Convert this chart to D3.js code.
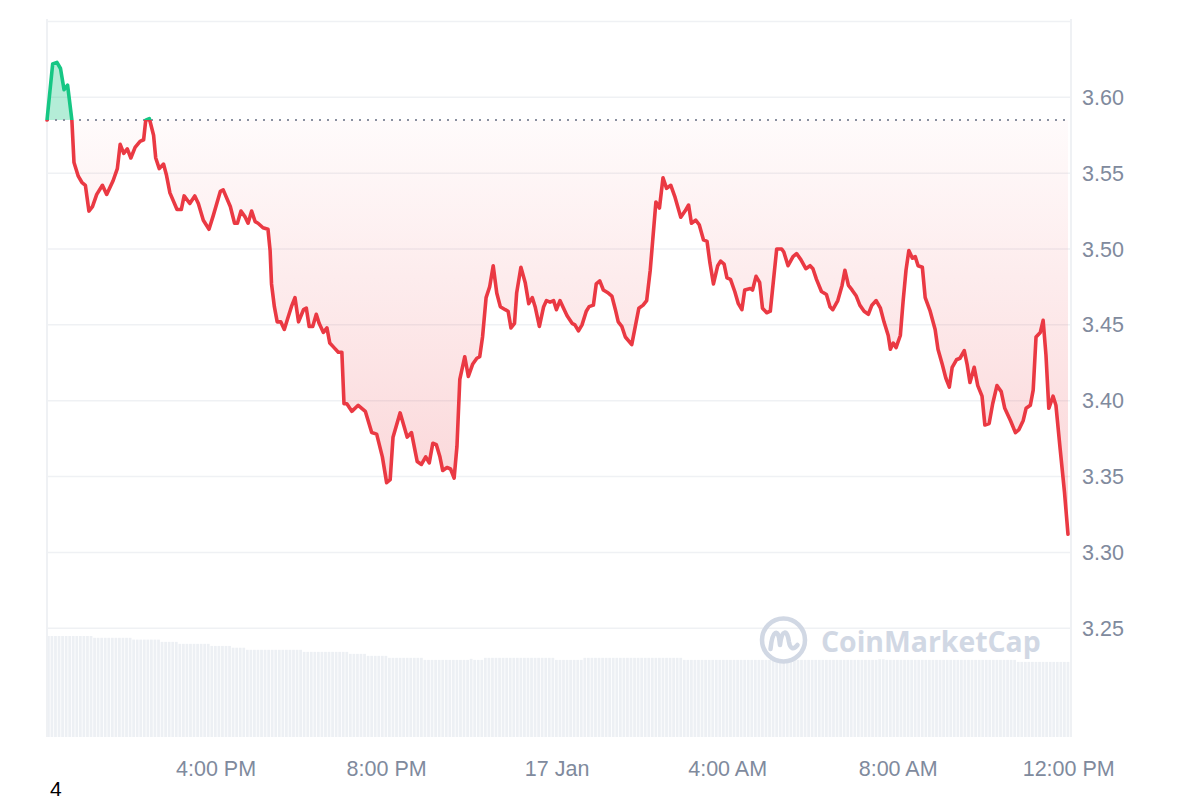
<!DOCTYPE html>
<html>
<head>
<meta charset="utf-8">
<script src="https://cdn.jsdelivr.net/npm/d3@7"></script>
<style>
  html, body { margin: 0; padding: 0; background: #ffffff; }
  svg { display: block; }
  text { font-family: "Liberation Sans", Arial, Helvetica, sans-serif; }
</style>
</head>
<body>
<svg id="chart" width="1200" height="800"></svg>
<script>
// ---------- DATA ----------
const startTime = new Date(2025, 0, 16, 12, 2);   // first sample
const baselinePrice = 3.585;                        // opening price (dotted line)

// minutes after startTime of each sampled price
const priceMinutes = [0,8,14,19,24,29,35,38,44,49,54,59,64,70,78,84,93,99,103,108,113,118,124,131,136,139,144,150,153,158,164,168,173,183,189,193,201,208,213,220,228,234,244,248,258,264,268,273,279,283,288,293,297,304,311,314,316,320,324,329,334,338,344,349,354,361,365,369,374,379,383,389,394,398,404,410,415,418,422,429,438,448,457,464,472,478,483,487,497,507,513,521,527,533,538,543,548,553,557,563,568,573,577,581,588,593,599,605,609,613,618,623,628,633,638,645,649,653,658,661,667,673,678,683,687,693,699,703,708,713,717,722,728,732,739,743,748,753,759,763,769,773,778,783,790,795,800,804,809,814,823,828,833,839,844,849,857,862,867,872,878,884,892,898,903,907,913,918,924,929,933,938,944,948,953,957,962,968,973,978,982,990,993,998,1003,1007,1013,1018,1027,1034,1037,1043,1050,1055,1061,1068,1074,1078,1083,1090,1097,1102,1106,1113,1119,1123,1128,1133,1139,1144,1150,1156,1161,1167,1173,1178,1184,1187,1191,1195,1201,1205,1209,1213,1218,1222,1226,1232,1236,1243,1250,1254,1260,1265,1270,1274,1280,1285,1291,1295,1299,1305,1310,1316,1320,1326,1331,1337,1343,1348,1356,1363,1368,1374,1378,1384,1388,1392,1398,1402,1406,1410,1416,1420,1426,1432,1437];

const prices = [3.585,3.622,3.623,3.619,3.605,3.608,3.585,3.557,3.548,3.544,3.542,3.525,3.528,3.536,3.542,3.536,3.545,3.553,3.569,3.563,3.566,3.560,3.567,3.571,3.572,3.585,3.586,3.575,3.560,3.553,3.556,3.549,3.537,3.526,3.526,3.535,3.530,3.535,3.530,3.519,3.513,3.522,3.538,3.539,3.528,3.517,3.517,3.525,3.521,3.517,3.525,3.518,3.517,3.514,3.513,3.499,3.477,3.462,3.452,3.452,3.447,3.453,3.462,3.468,3.452,3.460,3.461,3.449,3.449,3.457,3.451,3.445,3.448,3.438,3.435,3.432,3.432,3.398,3.398,3.393,3.397,3.393,3.379,3.378,3.363,3.346,3.348,3.376,3.392,3.376,3.379,3.360,3.358,3.363,3.359,3.372,3.371,3.363,3.354,3.356,3.355,3.349,3.370,3.414,3.429,3.416,3.424,3.428,3.429,3.442,3.468,3.475,3.489,3.471,3.462,3.460,3.459,3.448,3.451,3.471,3.488,3.478,3.464,3.468,3.462,3.449,3.462,3.466,3.465,3.466,3.460,3.466,3.460,3.456,3.451,3.450,3.446,3.450,3.459,3.462,3.463,3.477,3.479,3.473,3.471,3.469,3.460,3.452,3.449,3.442,3.437,3.449,3.461,3.463,3.466,3.486,3.531,3.527,3.547,3.540,3.542,3.534,3.521,3.525,3.529,3.517,3.519,3.516,3.506,3.505,3.491,3.477,3.489,3.492,3.490,3.481,3.480,3.472,3.464,3.460,3.473,3.474,3.473,3.482,3.478,3.461,3.458,3.459,3.500,3.500,3.498,3.489,3.495,3.497,3.493,3.487,3.489,3.487,3.480,3.472,3.470,3.462,3.460,3.466,3.476,3.486,3.476,3.473,3.469,3.463,3.459,3.457,3.463,3.466,3.461,3.452,3.443,3.434,3.438,3.435,3.443,3.466,3.486,3.499,3.494,3.495,3.489,3.488,3.468,3.459,3.447,3.434,3.424,3.415,3.409,3.422,3.427,3.428,3.433,3.424,3.412,3.422,3.410,3.403,3.384,3.385,3.398,3.410,3.406,3.395,3.387,3.379,3.381,3.387,3.395,3.397,3.407,3.442,3.445,3.453,3.430,3.395,3.403,3.397,3.368,3.340,3.312];

// 24h volume (billions), run-length encoded per 5-minute bar
const volumeRunCounts = [13,11,8,5,9,6,4,16,13,5,6,10,13,1,3,20,8,28,55,2,37,15];
const volumeRunValues = [11.2,11.0,10.8,10.55,10.33,10.1,9.9,9.67,9.44,9.22,9.0,8.78,8.55,8.67,8.55,8.78,8.55,8.78,8.55,8.62,8.55,8.33];
const volumeBarMinutes = 5;

const yTickValues = [3.25, 3.30, 3.35, 3.40, 3.45, 3.50, 3.55, 3.60];
const yGridValues = [3.25, 3.30, 3.35, 3.40, 3.45, 3.50, 3.55, 3.60, 3.65];
const xTickTimes = [new Date(2025,0,16,16,0), new Date(2025,0,16,20,0), new Date(2025,0,17,0,0),
                    new Date(2025,0,17,4,0), new Date(2025,0,17,8,0), new Date(2025,0,17,12,0)];
const xTickLabels = ["4:00 PM", "8:00 PM", "17 Jan", "4:00 AM", "8:00 AM", "12:00 PM"];

// ---------- LAYOUT ----------
const plotLeft = 47, plotRight = 1071, plotTop = 19, plotBottom = 737;
const volTop = 636;
const COLORS = { red: "#ea3943", green: "#16c784", grid: "#eff1f4", label: "#808a9d", vol: "#edf0f4", dot: "#8a90a0", wm: "#cfd6e3" };

const svg = d3.select("#chart");
const minute = 60000;
const data = priceMinutes.map((m, i) => ({ t: new Date(+startTime + m * minute), v: prices[i] }));
const endTime = new Date(+startTime + priceMinutes[priceMinutes.length - 1] * minute);

const x = d3.scaleTime().domain([startTime, endTime]).range([plotLeft, 1068]);
const y = d3.scaleLinear().domain([3.25, 3.60]).range([628.3, 97.3]);

// volume bars expanded from runs
const volume = [];
volumeRunCounts.forEach((c, i) => { for (let k = 0; k < c; k++) volume.push(volumeRunValues[i]); });
const vY = d3.scaleLinear().domain([0, d3.max(volume)]).range([plotBottom, volTop]);

const defs = svg.append("defs");
const yBase = y(baselinePrice);
defs.append("clipPath").attr("id", "clipAbove").append("rect")
  .attr("x", 0).attr("y", 0).attr("width", 1200).attr("height", yBase);
defs.append("clipPath").attr("id", "clipBelow").append("rect")
  .attr("x", 0).attr("y", yBase).attr("width", 1200).attr("height", 800 - yBase);
const grad = defs.append("linearGradient").attr("id", "redGrad")
  .attr("gradientUnits", "userSpaceOnUse").attr("x1", 0).attr("x2", 0)
  .attr("y1", yBase).attr("y2", y(d3.min(prices)));
grad.append("stop").attr("offset", 0).attr("stop-color", COLORS.red).attr("stop-opacity", 0.02);
grad.append("stop").attr("offset", 1).attr("stop-color", COLORS.red).attr("stop-opacity", 0.22);

// gridlines
svg.append("g").selectAll("line").data(yGridValues).join("line")
  .attr("x1", plotLeft).attr("x2", plotRight)
  .attr("y1", d => y(d)).attr("y2", d => y(d))
  .attr("stroke", COLORS.grid).attr("stroke-width", 1.5);

// volume bars
const barStep = x(new Date(+startTime + volumeBarMinutes * minute)) - x(startTime);
svg.append("g").selectAll("rect").data(volume).join("rect")
  .attr("x", (d, i) => x(new Date(+startTime + i * volumeBarMinutes * minute)))
  .attr("width", barStep - 0.8)
  .attr("y", d => vY(d))
  .attr("height", d => plotBottom - vY(d))
  .attr("fill", COLORS.vol);

// borders
svg.append("g").selectAll("line").data([plotLeft, plotRight]).join("line")
  .attr("x1", d => d).attr("x2", d => d).attr("y1", plotTop).attr("y2", plotBottom)
  .attr("stroke", COLORS.grid).attr("stroke-width", 2);

// watermark
const wm = svg.append("g").attr("opacity", 0.95);
const lc = { x: 783.5, y: 640 };
wm.append("circle").attr("cx", lc.x).attr("cy", lc.y).attr("r", 21.5)
  .attr("fill", "none").attr("stroke", COLORS.wm).attr("stroke-width", 4.5);
wm.append("path")
  .attr("transform", `translate(${lc.x},${lc.y})`)
  .attr("d", "M -13 9 C -11 -11, -5 -11, -4 1 L -3.5 5 C -2 -11, 4 -11, 5.5 2 C 6.5 9, 10 10, 14 5")
  .attr("fill", "none").attr("stroke", COLORS.wm).attr("stroke-width", 4.5)
  .attr("stroke-linecap", "round").attr("stroke-linejoin", "round");
wm.append("text").attr("x", 821).attr("y", 652)
  .attr("font-size", 28.4).attr("font-weight", 700).attr("fill", COLORS.wm)
  .style("font-family", "'Open Sans', 'Liberation Sans', sans-serif")
  .text("CoinMarketCap");

// areas
const area = d3.area().x(d => x(d.t)).y0(yBase).y1(d => y(d.v));
svg.append("path").datum(data).attr("d", area).attr("clip-path", "url(#clipBelow)")
  .attr("fill", "url(#redGrad)");
svg.append("path").datum(data).attr("d", area).attr("clip-path", "url(#clipAbove)")
  .attr("fill", COLORS.green).attr("fill-opacity", 0.32);

// baseline dotted
svg.append("line").attr("x1", plotLeft).attr("x2", 1068).attr("y1", yBase).attr("y2", yBase)
  .attr("stroke", COLORS.dot).attr("stroke-width", 2).attr("stroke-dasharray", "2,6");

// price line
const line = d3.line().x(d => x(d.t)).y(d => y(d.v));
svg.append("path").datum(data).attr("d", line).attr("clip-path", "url(#clipBelow)")
  .attr("fill", "none").attr("stroke", COLORS.red).attr("stroke-width", 3.6)
  .attr("stroke-linejoin", "round").attr("stroke-linecap", "round");
svg.append("path").datum(data).attr("d", line).attr("clip-path", "url(#clipAbove)")
  .attr("fill", "none").attr("stroke", COLORS.green).attr("stroke-width", 3.6)
  .attr("stroke-linejoin", "round").attr("stroke-linecap", "round");

// y axis labels
svg.append("g").selectAll("text").data(yTickValues).join("text")
  .attr("x", 1082).attr("y", d => y(d) + 7.5)
  .attr("font-size", 21.5).attr("fill", COLORS.label)
  .text(d => d3.format(".2f")(d));

// x axis labels
svg.append("g").selectAll("text").data(xTickTimes).join("text")
  .attr("x", d => x(d)).attr("y", 776)
  .attr("text-anchor", "middle").attr("font-size", 21.5).attr("fill", COLORS.label)
  .text((d, i) => xTickLabels[i]);

// stray label bottom-left
svg.append("text").attr("x", 50).attr("y", 796).attr("font-size", 21).attr("fill", "#000").text("4");
</script>
</body>
</html>
